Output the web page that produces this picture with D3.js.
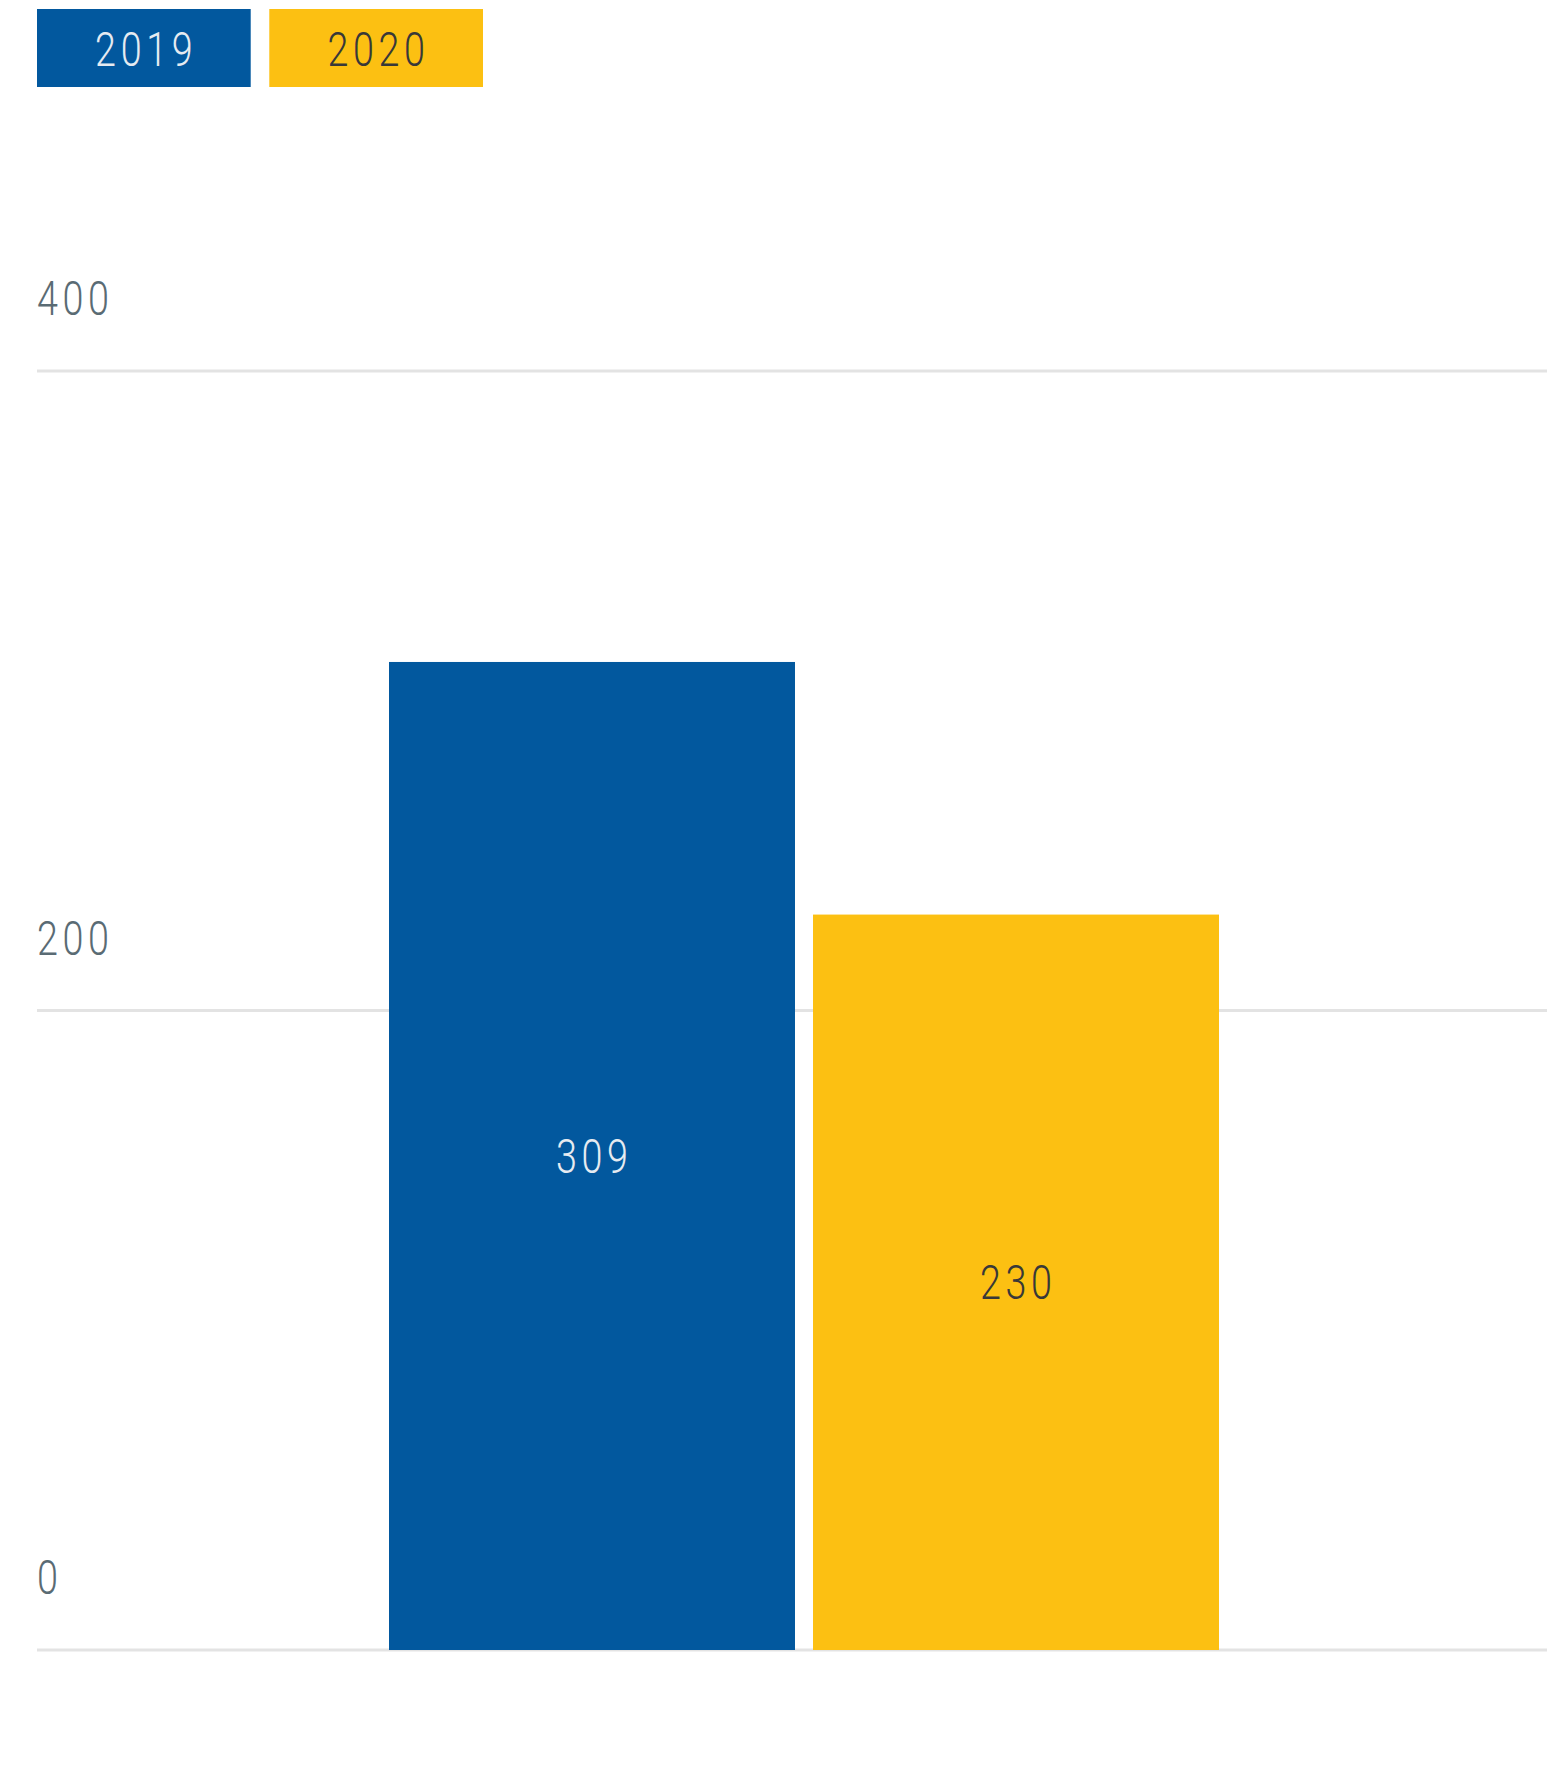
<!DOCTYPE html>
<html>
<head>
<meta charset="utf-8">
<script src="https://cdn.jsdelivr.net/npm/d3@7"></script>
<style>
  html, body { margin: 0; padding: 0; background: #ffffff; }
  svg { display: block; }
  text { font-family: Roboto, "Noto Sans", sans-serif; font-weight: 300; }
</style>
</head>
<body>
<svg id="chart" width="1547" height="1774"></svg>
<script>
// Series and values
const seriesNames = ["2019", "2020"];
const seriesValues = [309, 230];
const seriesColors = ["#02589e", "#fcc012"];
const labelColors = ["#e6ebf1", "#383838"];
// Y axis ticks
const tickValues = [0, 200, 400];

const plot = { left: 37, right: 1547, top: 371, bottom: 1650 };
const FONT = 49, SQUEEZE = 0.77, SPACING = 6;

const svg = d3.select("#chart");

const y = d3.scaleLinear().domain([0, 400]).range([plot.bottom, plot.top]);
const x = d3.scaleBand().domain(seriesNames).range([389, 1219]).paddingInner(0.0425);

// condensed text helper: narrow glyphs with open tracking
function narrowText(sel, xPos, yPos, anchor) {
  sel.attr("transform", (d, i) => `translate(${xPos(d, i)},${yPos(d, i)}) scale(${SQUEEZE},1)`)
     .attr("text-anchor", anchor)
     .attr("font-size", FONT)
     .attr("letter-spacing", SPACING);
}

// gridlines
svg.append("g").selectAll("line")
  .data(tickValues).join("line")
  .attr("x1", plot.left).attr("x2", plot.right)
  .attr("y1", d => y(d)).attr("y2", d => y(d))
  .attr("stroke", "#e3e3e3").attr("stroke-width", 3);

// tick labels sit above their gridline
svg.append("g").selectAll("text")
  .data(tickValues).join("text")
  .text(d => d)
  .attr("fill", "#5a6b74")
  .call(narrowText, () => plot.left, d => y(d) - 56, "start");

// bars
svg.append("g").selectAll("rect")
  .data(seriesValues).join("rect")
  .attr("x", (d, i) => x(seriesNames[i]))
  .attr("width", x.bandwidth())
  .attr("y", d => y(d))
  .attr("height", d => y(0) - y(d))
  .attr("fill", (d, i) => seriesColors[i]);

// value labels centred in the bars
svg.append("g").selectAll("text")
  .data(seriesValues).join("text")
  .text(d => d)
  .attr("fill", (d, i) => labelColors[i])
  .attr("dominant-baseline", "central")
  .call(narrowText, (d, i) => x(seriesNames[i]) + x.bandwidth() / 2 + SPACING * SQUEEZE / 2,
        d => (y(d) + y(0)) / 2, "middle");

// legend
const legendX = d3.scaleBand().domain(seriesNames).range([37, 483]).paddingInner(0.08);
const legend = svg.append("g").selectAll("g")
  .data(seriesNames).join("g");
legend.append("rect")
  .attr("x", d => legendX(d)).attr("y", 9)
  .attr("width", legendX.bandwidth()).attr("height", 78)
  .attr("fill", (d, i) => seriesColors[i]);
legend.append("text")
  .text(d => d)
  .attr("fill", (d, i) => labelColors[i])
  .call(narrowText, d => legendX(d) + legendX.bandwidth() / 2 + SPACING * SQUEEZE / 2, () => 66, "middle");
</script>
</body>
</html>
